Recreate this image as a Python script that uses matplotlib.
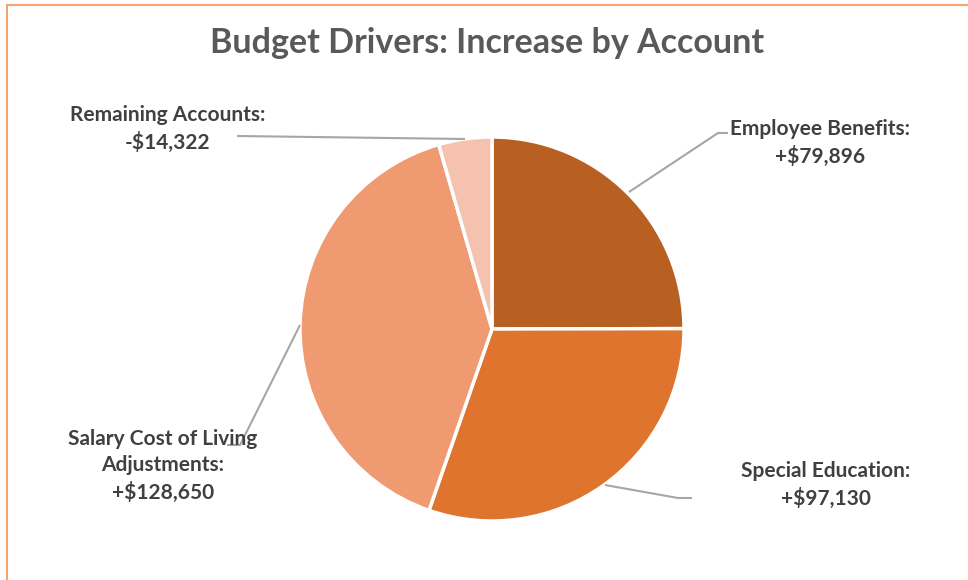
import matplotlib.pyplot as plt
from matplotlib.patches import Rectangle

# data
accounts = ["Employee Benefits", "Special Education",
            "Salary Cost of Living\nAdjustments", "Remaining Accounts"]
changes = [79896, 97130, 128650, -14322]
colors = ["#B86022", "#DE742E", "#F09A72", "#F5C2AF"]

plt.rcParams['font.family'] = ['Lato', 'DejaVu Sans']

fig = plt.figure(figsize=(9.68, 5.8), dpi=100)
ax = fig.add_axes([0, 0, 1, 1])

H = 580
# pie sized by magnitude of change, first slice starting at 12 o'clock
ax.pie([abs(c) for c in changes], colors=colors, startangle=90, counterclock=False,
       center=(492, H - 329), radius=192,
       wedgeprops=dict(edgecolor="white", linewidth=2.5))

ax.set_xlim(0, 968)
ax.set_ylim(0, H)
ax.set_aspect('equal')
ax.axis('off')

# outer frame (only top and left visible in the crop)
ax.add_patch(Rectangle((7, -20), 1000, H - 5 + 20, fill=False,
                       edgecolor="#F4A46E", linewidth=1.5))

ax.text(487, H - 43, "Budget Drivers: Increase by Account", ha='center', va='center',
        fontsize=24.5, fontweight='bold', color="#595959")


def fmt(v):
    return ("+" if v >= 0 else "-") + "${:,}".format(abs(v))


label_pos = [(820, 143), (826, 485), (163, 466), (168, 129)]
leaders = [
    [(629, 192), (718, 133), (728, 133)],
    [(605, 485), (678, 498), (692, 498)],
    [(300, 325), (240, 445), (227, 445)],
    [(465, 139), (237, 136)],
]
for name, val, (x, y), pts in zip(accounts, changes, label_pos, leaders):
    ax.plot([p[0] for p in pts], [H - p[1] for p in pts], color="#A6A6A6", lw=1.5,
            solid_capstyle='butt')
    ax.text(x, H - y, name + ":\n" + fmt(val), ha='center', va='center',
            fontsize=15, fontweight='bold', color="#404040", linespacing=1.42)

fig.savefig("out.png", dpi=100)
